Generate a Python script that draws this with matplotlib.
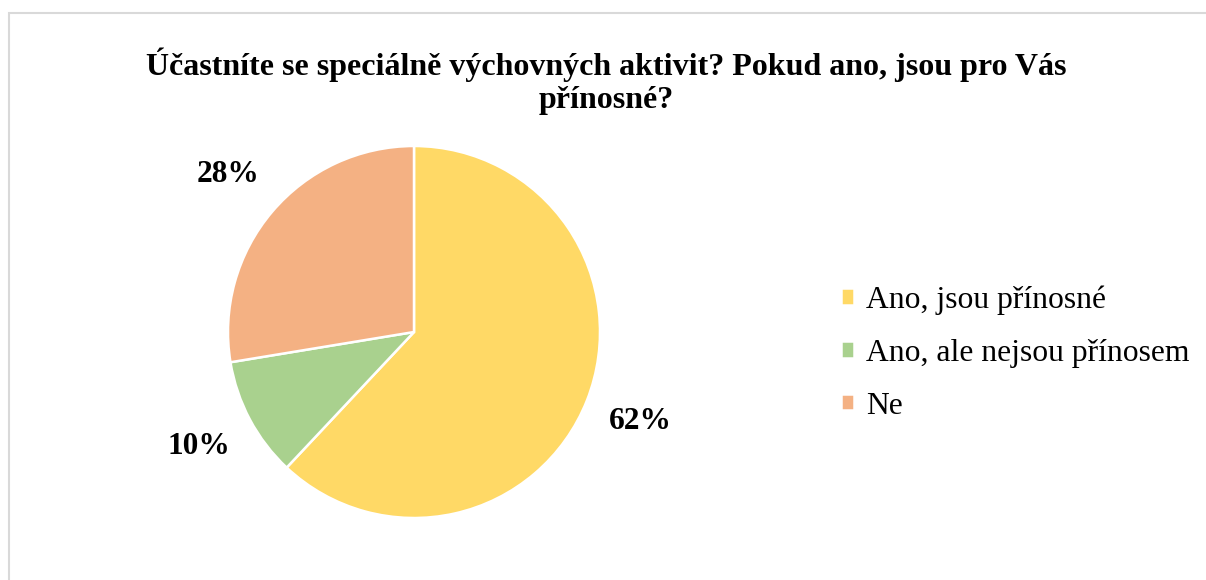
import matplotlib.pyplot as plt
from matplotlib.patches import Rectangle

# data (shares)
kategorie = ['Ano, jsou přínosné', 'Ano, ale nejsou přínosem', 'Ne']
hodnoty = [62.0, 10.4, 27.6]
barvy = ['#FFD966', '#A9D18E', '#F4B183']
titulek = 'Účastníte se speciálně výchovných aktivit? Pokud ano, jsou pro Vás\npřínosné?'

plt.rcParams['font.family'] = ['Liberation Serif', 'DejaVu Serif']

fig = plt.figure(figsize=(12.06, 5.8), dpi=100)

# light gray frame (only top and left edges are visible)
fig.patches.append(Rectangle((9 / 1206, -0.1), 1.2, 1 - 13 / 580 + 0.1,
                             transform=fig.transFigure, fill=False,
                             edgecolor='#D9D9D9', linewidth=1.5))

ax = fig.add_axes([228 / 1206, 62 / 580, 372 / 1206, 372 / 580])
wedges, texts, autotexts = ax.pie(
    hodnoty, colors=barvy, startangle=90, counterclock=False,
    autopct='%.0f%%', pctdistance=1.31,
    wedgeprops=dict(edgecolor='white', linewidth=1.8))
for t in autotexts:
    t.set_fontsize(22.6)
    t.set_fontweight('bold')
ax.set_xlim(-1, 1)
ax.set_ylim(-1, 1)
ax.set_aspect('equal')

fig.text(0.503, 1 - 81 / 580, titulek, ha='center', va='center',
         fontsize=23, fontweight='bold', linespacing=1.2)

fig.legend(wedges, kategorie, loc='center left',
           bbox_to_anchor=(812 / 1206, 1 - 353 / 580),
           frameon=False, fontsize=22.8, handlelength=0.42, handleheight=0.42,
           handletextpad=0.4, labelspacing=0.75)

fig.savefig('out.png', dpi=100)
